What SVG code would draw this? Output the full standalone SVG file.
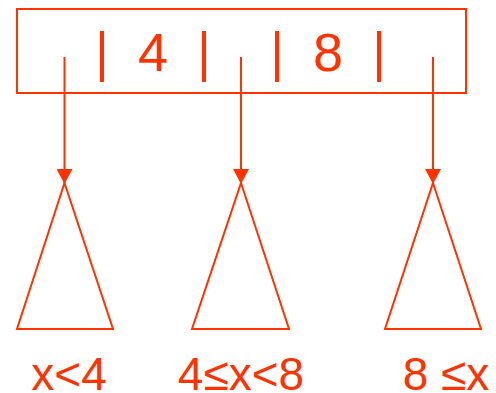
<svg xmlns="http://www.w3.org/2000/svg" width="496" height="393" viewBox="0 0 496 393">
<style>
.s{fill:none;stroke:#FF3300;stroke-width:2}
.bar{stroke:#FF3300;stroke-width:4}
.t{fill:#FF3300;font-family:"Liberation Sans",Arial,sans-serif;text-anchor:middle}
</style>
<defs>
<marker id="ah" markerWidth="16" markerHeight="16" refX="15" refY="8" orient="auto" markerUnits="userSpaceOnUse">
<path d="M0,0 L15,8 L0,16 Z" fill="#FF3300"/>
</marker>
</defs>
<g id="node-root">
<rect class="s" x="17" y="9" width="449" height="84"/>
<line class="bar" x1="102" y1="31" x2="102" y2="82"/>
<line class="bar" x1="204" y1="31" x2="204" y2="82"/>
<line class="bar" x1="277" y1="31" x2="277" y2="82"/>
<line class="bar" x1="379" y1="31" x2="379" y2="82"/>
<text class="t" x="153" y="71" font-size="54">4</text>
<text class="t" x="328" y="71" font-size="54">8</text>
</g>
<g id="connectors">
<line class="s" x1="64.5" y1="57" x2="64.5" y2="184" marker-end="url(#ah)"/>
<line class="s" x1="241" y1="57" x2="241" y2="184" marker-end="url(#ah)"/>
<line class="s" x1="433" y1="57" x2="433" y2="184" marker-end="url(#ah)"/>
</g>
<g id="tree-left">
<polygon class="s" points="64.5,183 113,329 17,329"/>
<text class="t" x="69" y="390" font-size="46">x&lt;4</text>
</g>
<g id="tree-mid">
<polygon class="s" points="241,183 289,329 192,329"/>
<text class="t" x="241" y="390" font-size="46">4≤x&lt;8</text>
</g>
<g id="tree-right">
<polygon class="s" points="433,183 481,329 385,329"/>
<text class="t" x="446" y="390" font-size="46">8 ≤x</text>
</g>
</svg>
